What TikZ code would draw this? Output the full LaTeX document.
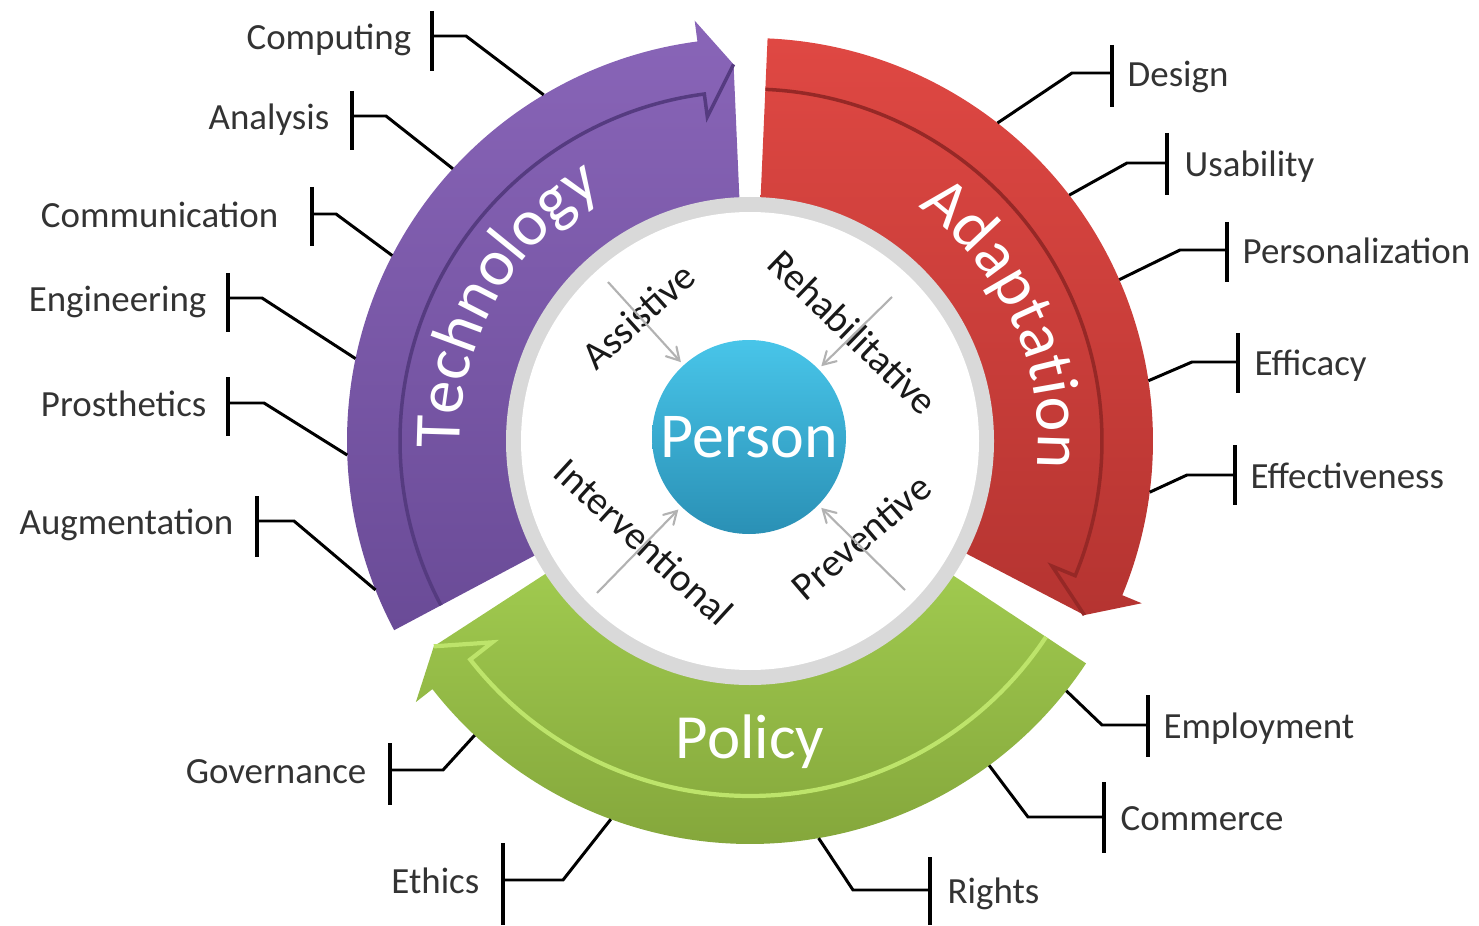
\documentclass[tikz,border=0pt]{standalone}
\usepackage{fontspec}
\setmainfont{Carlito}
\usetikzlibrary{arrows,positioning,decorations.text}

\definecolor{techtop}{HTML}{8965B8}
\definecolor{techbot}{HTML}{6A4B97}
\definecolor{techline}{HTML}{553B80}
\definecolor{adapttop}{HTML}{DF4843}
\definecolor{adaptbot}{HTML}{B53431}
\definecolor{adaptline}{HTML}{962826}
\definecolor{policytop}{HTML}{A0CA4F}
\definecolor{policybot}{HTML}{84A63B}
\definecolor{policyline}{HTML}{BDE46B}
\definecolor{ringgray}{HTML}{D9D9D9}
\definecolor{personhi}{HTML}{48C5E9}
\definecolor{personlo}{HTML}{2A90B5}
\definecolor{labelgray}{HTML}{333333}

\begin{document}
\begin{tikzpicture}[x=0.1mm,y=0.1mm,>=angle 60,
    item node/.style={font=\fontsize{10.5}{12}\selectfont,text=labelgray,inner sep=0pt,
                      text height=0.76em,text depth=0pt},
    inner node/.style={font=\fontsize{11.2}{13}\selectfont,text=black!90,inner sep=0pt},
    person node/.style={circle,minimum size=19.4mm,inner sep=0pt,
                        top color=personhi,bottom color=personlo,text=white,
                        font=\fontsize{18.2}{20}\selectfont},
    band text/.style={font=\fontsize{17.9}{20}\selectfont,text=white,inner sep=0pt},
    feed/.style={->,draw=black!30,line width=0.6pt,shorten >=1pt},
    tee/.style={line width=0.85pt},
    tee bar/.style={line width=1.1pt}]

  \useasboundingbox (0,0) rectangle (1479,925);
  \coordinate (C) at (750,484);

  % the three bands
  \begin{scope}[shift={(C)}]
    \shade[top color=techtop,bottom color=techbot]
      (208:403) arc[start angle=208,end angle=97.5,radius=403] -- (97.5:424) -- (92.5:377)
      -- (92.5:235) arc[start angle=92.5,end angle=208,radius=235] -- cycle;
    \draw[techline,line width=1pt]
      (208:350) arc[start angle=208,end angle=97.5,radius=350] -- (97.5:327) -- (92.5:377);

    \shade[top color=adapttop,bottom color=adaptbot]
      (87.5:403) arc[start angle=87.5,end angle=-22.5,radius=403] -- (-22.5:424) -- (-27.5:377)
      -- (-27.5:235) arc[start angle=-27.5,end angle=87.5,radius=235] -- cycle;
    \draw[adaptline,line width=1pt]
      (87.5:352) arc[start angle=87.5,end angle=-22.5,radius=352] -- (-22.5:327) -- (-27.5:377);

    \shade[top color=policytop,bottom color=policybot]
      (-33.5:403) arc[start angle=-33.5,end angle=-142,radius=403] -- (-142:424) -- (-147:377)
      -- (-147:235) arc[start angle=-147,end angle=-33.5,radius=235] -- cycle;
    \draw[policyline,line width=1.2pt]
      (-33.5:355) arc[start angle=-33.5,end angle=-142,radius=355] -- (-142:327) -- (-147:377);
  \end{scope}

  % inner ring
  \fill[ringgray] (C) circle[radius=244];
  \fill[white] (C) circle[radius=229];

  \node[person node] (person) at (749,488) {Person};

  \node[inner node,rotate=42]    (assistive) at (638,609) {Assistive};
  \node[inner node,rotate=-44]   (rehab)     at (853,593) {Rehabilitative};
  \node[inner node,rotate=-42.5] (interv)    at (644,383) {Interventional};
  \node[inner node,rotate=40.6]  (prevent)   at (861,388) {Preventive};

  \coordinate (assistive-in) at (608,643);
  \coordinate (rehab-in)     at (892,628);
  \coordinate (interv-in)    at (597,332);
  \coordinate (prevent-in)   at (905,335);
  \foreach \src in {assistive,rehab,interv,prevent}
    \draw[feed] (\src-in) -- (person);

  % band titles
  \path[decorate,decoration={text along path,text align=center,text color=white,
        text={|\fontsize{18.8}{22}\selectfont|Technology}}]
    ([shift={(201:290)}]C) arc[start angle=201,end angle=101,radius=290];
  \path[decorate,decoration={text along path,text align=center,text color=white,
        text={|\fontsize{18.8}{22}\selectfont|Adaptation}}]
    ([shift={(74.5:288)}]C) arc[start angle=74.5,end angle=-25.5,radius=288];
  \node[band text] (policy) at (750,183) {Policy};

  % callouts, left side
  \foreach \name/\bx/\by/\ex/\ang/\bt/\bb/\gap in {
      Computing/432/889/466/120.8/914/854/2mm,
      Analysis/352/809/386/137.5/834/775/2.2mm,
      Communication/312/711/336/152.6/738/679/3.3mm,
      Engineering/228/627/262/168.2/652/593/2.1mm,
      Prosthetics/228/522/264/182/548/489/2.1mm,
      Augmentation/257/404/294/201.7/429/368/2.3mm,
      Governance/390/155/443/226.9/182/120/2.3mm,
      Ethics/503/45/563/249.8/82/0/2.3mm}{
    \coordinate (\name-bar) at (\bx,\by);
    \coordinate (\name-arc) at ([shift={(\ang:403)}]C);
    \draw[tee] (\name-arc) -- (\ex,\by) -- (\name-bar);
    \draw[tee bar] (\bx,\bt) -- (\bx,\bb);
    \node[item node,left=\gap of \name-bar] (\name) {\name};
  }

  % callouts, right side
  \foreach \name/\bx/\by/\ex/\ang/\bt/\bb/\gap in {
      Design/1112/852/1072/52.1/880/818/1.5mm,
      Usability/1167/762/1127/37.6/792/730/1.7mm,
      Personalization/1227/675/1180/23.6/703/643/1.5mm,
      Efficacy/1238/563/1192/8.6/592/532/1.6mm,
      Effectiveness/1235/450/1187/-7.3/480/420/1.5mm,
      Employment/1148/200/1102/-38.3/230/168/1.5mm,
      Commerce/1104/108/1028/-53.6/143/72/1.6mm,
      Rights/930/35/853/-80.2/68/0/1.7mm}{
    \coordinate (\name-bar) at (\bx,\by);
    \coordinate (\name-arc) at ([shift={(\ang:403)}]C);
    \draw[tee] (\name-arc) -- (\ex,\by) -- (\name-bar);
    \draw[tee bar] (\bx,\bt) -- (\bx,\bb);
    \node[item node,right=\gap of \name-bar] (\name) {\name};
  }
\end{tikzpicture}
\end{document}
